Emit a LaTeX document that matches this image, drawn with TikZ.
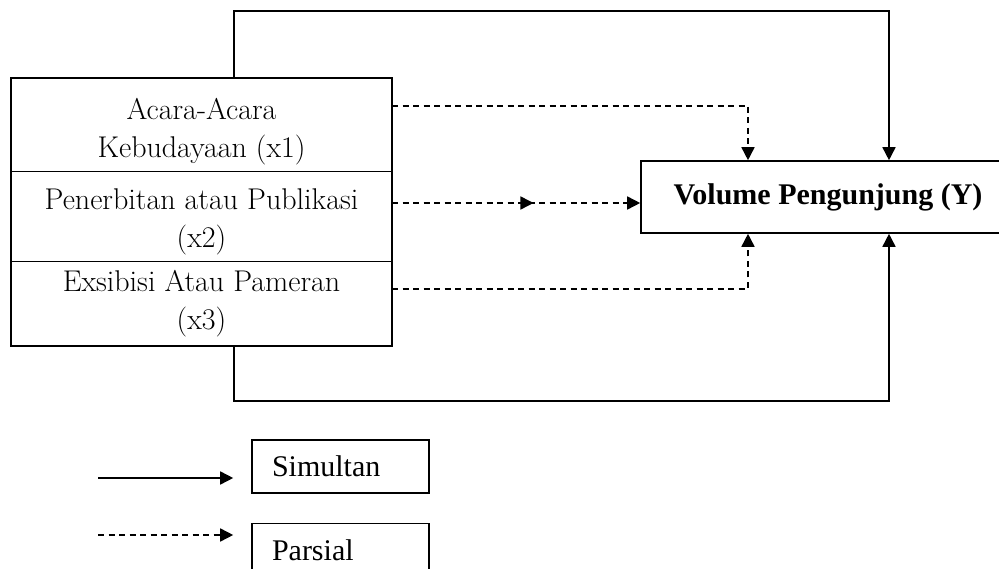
\documentclass[tikz,border=0pt]{standalone}
\usepackage{fontspec}
\newfontfamily\timesfont{Liberation Serif}
\usetikzlibrary{positioning,arrows.meta,decorations.markings}

\begin{document}
\begin{tikzpicture}[
            x=1pt,y=-1pt,
            line width=1.6pt,
            every node/.append style={black},
            varbox/.style={draw,rectangle,line width=1pt,minimum width=381pt,
                inner sep=0pt,outer sep=0pt,align=center,
                font=\fontsize{30}{38}\selectfont},
            legbox/.style={draw,rectangle,minimum height=53pt,text width=137pt,
                inner xsep=20pt,inner ysep=0pt,align=left,
                font=\timesfont\fontsize{30}{36}\selectfont},
            simul/.style={-{Triangle[length=13pt,width=13pt]}},
            parsi/.style={simul,dash pattern=on 6pt off 4.5pt},
            midtip/.style={postaction={decorate},decoration={markings,
                mark=at position #1 with {\arrow{Triangle[length=13pt,width=13pt]}}}}
        ]
            \useasboundingbox (0,0) rectangle (999,569);
            \clip (0,0) rectangle (999,569);
            % variabel X
            \node[varbox,minimum height=94pt] (x1) at (201.5,125)
                {\rule{0pt}{35pt}Acara-Acara\\Kebudayaan (x1)};
            \node[varbox,minimum height=90pt,below=0pt of x1] (x2)
                {\rule{0pt}{31pt}Penerbitan atau Publikasi\\(x2)};
            \node[varbox,minimum height=84pt,below=0pt of x2] (x3)
                {Exsibisi Atau Pameran\\(x3)};
            \draw (x1.north west) rectangle (x3.south east);
            % variabel Y
            \node[draw,minimum width=374pt,minimum height=72pt,
                font=\timesfont\bfseries\fontsize{30}{36}\selectfont] (y) at (828,197)
                {\raisebox{3pt}{Volume Pengunjung (Y)}};
            % keterangan
            \node[legbox] (simultan) at (340.5,466.5) {Simultan};
            \node[legbox,below=29pt of simultan] (parsial) {Parsial};

            \coordinate (tl) at (234,11);
            \coordinate (tr) at (889,11);
            \coordinate (bl) at (234,401);
            \coordinate (br) at (889,401);
            \coordinate (d1) at (748,106);
            \coordinate (dm) at (0,203);
            \coordinate (d3) at (748,289);
            \coordinate (ls) at (98,478);
            \coordinate (lp) at (98,535);

            \draw [simul] (x1.north -| tl)
                -- (tl)
                -- (tr)
                -- (y.north -| tr)
            ;
            \draw [simul] (x3.south -| bl)
                -- (bl)
                -- (br)
                -- (y.south -| br)
            ;
            \draw [parsi] (x1.east |- d1)
                -- (d1)
                -- (y.north -| d1)
            ;
            \draw [parsi,midtip=0.57] (x2.east |- dm)
                -- (y.west |- dm)
            ;
            \draw [parsi] (x3.east |- d3)
                -- (d3)
                -- (y.south -| d3)
            ;
            \draw [simul] (ls) -- ([xshift=-18pt]simultan.west |- ls);
            \draw [parsi] (lp) -- ([xshift=-18pt]parsial.west |- lp);
        \end{tikzpicture}
\end{document}
